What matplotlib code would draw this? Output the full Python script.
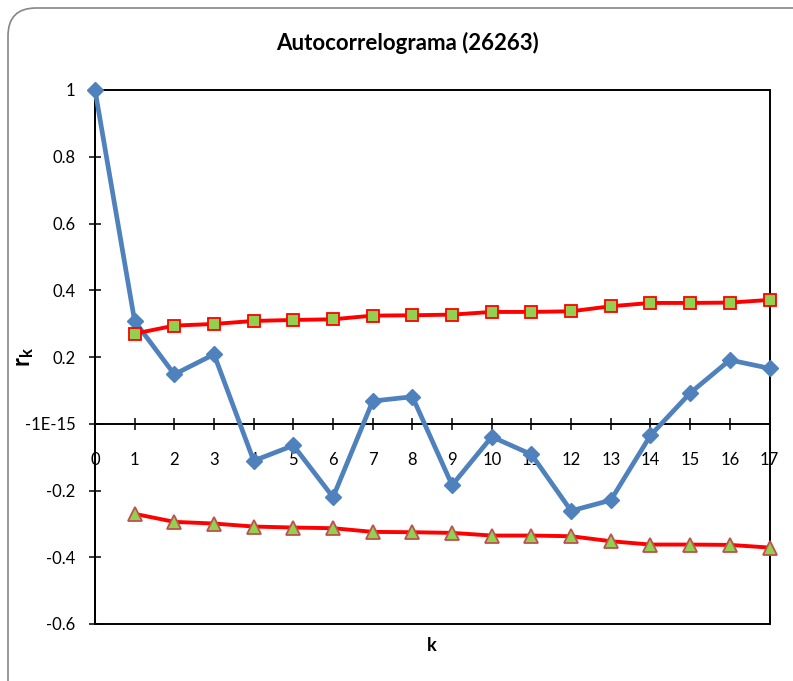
import numpy as np
import matplotlib
matplotlib.use('Agg')
import matplotlib.pyplot as plt
from matplotlib.patches import FancyBboxPatch, Rectangle
from matplotlib.transforms import IdentityTransform

plt.rcParams['font.family'] = ['Lato', 'DejaVu Sans']
plt.rcParams['mathtext.fontset'] = 'custom'
plt.rcParams['mathtext.rm'] = 'Lato'
plt.rcParams['mathtext.bf'] = 'Lato:bold'

lags = list(range(0, 18))
rk = [1.0, 0.307, 0.148, 0.208, -0.111, -0.065, -0.220, 0.068, 0.081,
      -0.184, -0.039, -0.092, -0.261, -0.229, -0.035, 0.092, 0.191, 0.166]
band_lags = list(range(1, 18))
upper = [0.270, 0.294, 0.299, 0.308, 0.311, 0.313, 0.324, 0.325, 0.327,
         0.335, 0.335, 0.337, 0.352, 0.362, 0.362, 0.363, 0.371]
lower = [-u for u in upper]
ytick_vals = [1, 0.8, 0.6, 0.4, 0.2, 0, -0.2, -0.4, -0.6]
ytick_labels = ['1', '0.8', '0.6', '0.4', '0.2', '-1E-15', '-0.2', '-0.4', '-0.6']

fig = plt.figure(figsize=(7.93, 6.81), dpi=100)

# marco redondeado del grafico
frame = FancyBboxPatch((8, -30), 820, 681 - 8 + 30,
                       boxstyle='round,pad=0,rounding_size=28',
                       transform=IdentityTransform(), facecolor='white',
                       edgecolor='#868686', linewidth=1.2, zorder=-10)
fig.add_artist(frame)

ax = fig.add_axes([95 / 793, 1 - 624 / 681, (769.5 - 95) / 793, (624 - 90) / 681])
ax.set_facecolor('none')

ax.plot(lags, rk, color='#4F81BD', linewidth=3.4, marker='D', markersize=8.5,
        markerfacecolor='#4F81BD', markeredgecolor='#4F81BD', clip_on=False, zorder=3)
ax.plot(band_lags, upper, color='#FF0000', linewidth=2.8, marker='s', markersize=9,
        markerfacecolor='#92D050', markeredgecolor='#FF0000', markeredgewidth=1.3,
        clip_on=False, zorder=4)
ax.plot(band_lags, lower, color='#FF0000', linewidth=2.8, marker='^', markersize=10,
        markerfacecolor='#92D050', markeredgecolor='#C0504D', markeredgewidth=1.3,
        clip_on=False, zorder=4)

ax.set_xlim(0, 17)
ax.set_ylim(-0.6, 1)

for s in ['top', 'right']:
    ax.spines[s].set_visible(False)
ax.spines['bottom'].set_position(('data', 0))
ax.spines['bottom'].set_linewidth(1.4)
ax.spines['left'].set_linewidth(1.4)
ax.add_patch(Rectangle((0, 0), 1, 1, transform=ax.transAxes, fill=False,
                       edgecolor='black', linewidth=1.4, clip_on=False, zorder=2))

ax.set_xticks(lags)
ax.set_yticks(ytick_vals)
ax.set_yticklabels(ytick_labels)
ax.tick_params(axis='both', direction='inout', length=8, width=1.1, labelsize=12)
ax.tick_params(axis='x', pad=16)
ax.tick_params(axis='y', pad=10)

ax.set_xlabel('k', fontsize=13, fontweight='bold')
ax.xaxis.set_label_coords(0.5, -0.025)
ax.set_ylabel(r'$\mathbf{r_k}$', fontsize=17)
ax.yaxis.set_label_coords(-0.088, 0.5)

fig.text(408 / 793, 1 - 43 / 681, 'Autocorrelograma (26263)', fontsize=16,
         fontweight='bold', ha='center', va='center')

fig.savefig('out.png', dpi=100)
